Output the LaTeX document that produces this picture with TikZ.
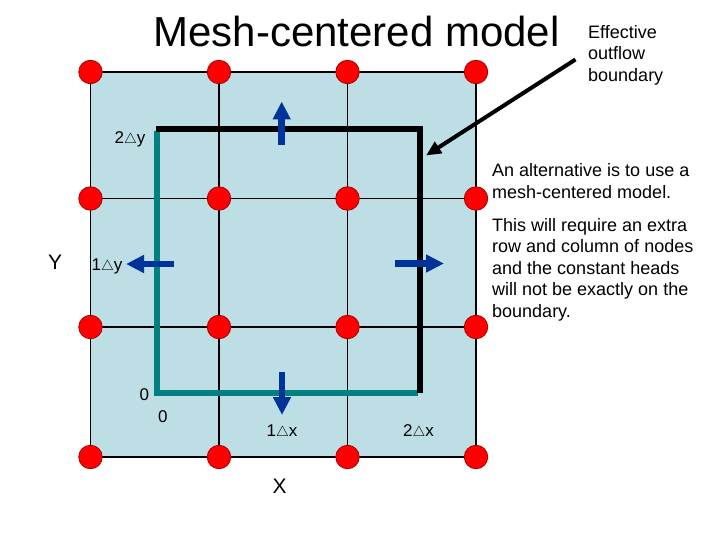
\documentclass[tikz,border=0pt]{standalone}
\usepackage{fontspec}
\setmainfont{Liberation Sans}
\usetikzlibrary{arrows.meta}
\definecolor{bgblue}{RGB}{188,222,228}
\definecolor{tealline}{RGB}{0,128,128}
\definecolor{arrblue}{RGB}{0,51,153}
\definecolor{dotred}{RGB}{255,0,0}
\definecolor{dotedge}{RGB}{170,0,0}
\newcommand{\tri}{{\fontsize{15}{15}\selectfont$\triangle$}}
\begin{document}
\begin{tikzpicture}[x=1pt,y=-1pt,
  dot/.style={circle,fill=dotred,draw=dotedge,line width=0.8pt,minimum size=23.5pt,inner sep=0pt},
  gridline/.style={line width=1.2pt,black},
  lbl/.style={inner sep=0pt,anchor=base west,font=\fontsize{17}{17}\selectfont},
  axislbl/.style={inner sep=0pt,anchor=base west,font=\fontsize{21}{21}\selectfont},
  body/.style={inner sep=0pt,anchor=base west,font=\fontsize{18}{18}\selectfont},
  flow/.style={arrblue,line width=6.5pt,-{Triangle[length=18pt,width=17pt]}},
  bound/.style={line width=6pt,line cap=square,line join=miter}
]
\useasboundingbox (0,0) rectangle (720,540);
% background field
\fill[bgblue] (90.5,72) rectangle (476,457);
\draw[gridline] (90.5,72) rectangle (476,457);
\draw[gridline] (219,72) -- (219,457);
\draw[gridline] (347.5,72) -- (347.5,457);
\draw[gridline] (90.5,198.5) -- (476,198.5);
\draw[gridline] (90.5,327) -- (476,327);
% boundaries
\draw[bound,tealline] (156.5,131) -- (156.5,393) -- (418,393);
\draw[bound,black] (156,129) -- (420,129) -- (420,393);
% flow arrows
\coordinate (upA) at (281.7,145);
\coordinate (upB) at (281.7,101.5);
\coordinate (dnA) at (282,372);
\coordinate (dnB) at (282,415);
\coordinate (lfA) at (174,264);
\coordinate (lfB) at (126,264);
\coordinate (rtA) at (395,263.5);
\coordinate (rtB) at (444,263.5);
\draw[flow] (upA) -- (upB);
\draw[flow] (dnA) -- (dnB);
\draw[flow] (lfA) -- (lfB);
\draw[flow] (rtA) -- (rtB);
% nodes (dots)
\foreach \i/\x in {1/90.5,2/219,3/347.5,4/476}{
  \foreach \j/\y in {1/72,2/198.5,3/327,4/457}{
    \node[dot] (d\i\j) at (\x,\y) {};
  }
}
% title
\node[inner sep=0pt,anchor=base,font=\fontsize{42}{42}\selectfont] (title) at (356.5,47) {Mesh-centered model};
% effective outflow boundary
\node[body,anchor=base west] (eff1) at (588,38.3) {Effective};
\node[body,anchor=base west] (eff2) at (588,60) {outflow};
\node[body,anchor=base west] (eff3) at (588,81.7) {boundary};
\coordinate (effA) at (575.5,59.5);
\coordinate (effB) at (426,155.5);
\draw[line width=4pt,-{Triangle[length=15pt,width=13pt]}] (effA) -- (effB);
% axis labels
\node[lbl] (l2y) at (114.5,143.3) {2\tri y};
\node[lbl] (l1y) at (91.5,270.7) {1\tri y};
\node[lbl] (l0a) at (139.5,400.5) {0};
\node[lbl] (l0b) at (158,422.7) {0};
\node[lbl] (l1x) at (266.5,436.7) {1\tri x};
\node[lbl] (l2x) at (403,436.7) {2\tri x};
\node[axislbl] (ly) at (48,269.3) {Y};
\node[axislbl] (lx) at (272.5,493.3) {X};
% explanation
\node[body] (t1) at (492,176.7) {An alternative is to use a};
\node[body] (t2) at (492,198.3) {mesh-centered model.};
\node[body] (t3) at (492,231) {This will require an extra};
\node[body] (t4) at (492,252.7) {row and column of nodes};
\node[body] (t5) at (492,274.3) {and the constant heads};
\node[body] (t6) at (492,295.8) {will not be exactly on the};
\node[body] (t7) at (492,317.3) {boundary.};
\end{tikzpicture}
\end{document}
